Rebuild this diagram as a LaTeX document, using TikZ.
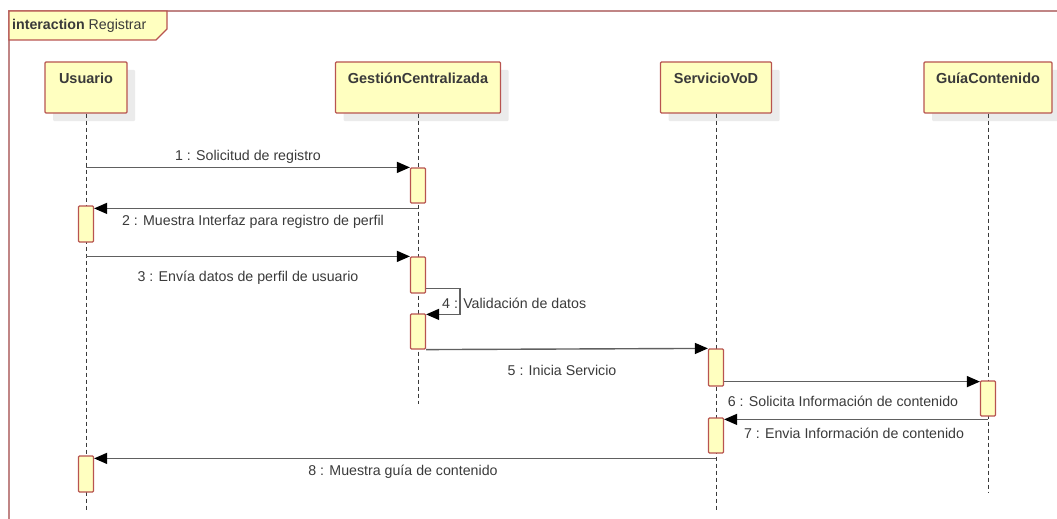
\documentclass[tikz,border=0pt]{standalone}
\usepackage{fontspec}
\setmainfont{Liberation Sans}
\usetikzlibrary{arrows.meta,shadows}
\definecolor{boxfill}{HTML}{FFFFC0}
\definecolor{boxline}{HTML}{B85450}
\definecolor{frameline}{HTML}{C08585}
\definecolor{msgline}{HTML}{606060}
\definecolor{txt}{HTML}{3A3A3A}
\definecolor{shade}{HTML}{EBEBEB}

\begin{document}
\begin{tikzpicture}[x=1pt,y=-1pt,
  head/.style={draw=boxline, fill=boxfill, line width=1.2pt, rounded corners=1pt,
    minimum height=51pt, inner sep=0pt,
    drop shadow={shadow xshift=8pt,shadow yshift=-8pt,fill=shade,opacity=1}},
  headtxt/.style={font=\bfseries\fontsize{14.5}{16}\selectfont, text=txt, inner sep=0pt},
  act/.style={draw=boxline, fill=boxfill, line width=1.2pt, rounded corners=1pt,
    minimum width=15pt, minimum height=36pt, inner sep=0pt},
  life/.style={draw=txt, line width=0.9pt, dash pattern=on 4pt off 3pt},
  msg/.style={draw=msgline, line width=1.4pt,
    -{Triangle[length=13pt,width=11pt,color=black]}},
  lbl/.style={font=\fontsize{14.2}{16}\selectfont, text=txt, inner sep=1pt}]

\useasboundingbox (0,0) rectangle (1057,519);

% frame of the interaction
\draw[frameline, line width=1.2pt] (9,519) -- (9,11) -- (1057,11);
\fill[boxfill] (9,11) -- (167,11) -- (167,29) -- (156,40) -- (9,40) -- cycle;
\draw[boxline, line width=1.2pt] (9,11) -- (167,11) -- (167,29) -- (156,40) -- (9,40) -- cycle;
\node[anchor=west, text=txt, inner sep=0pt, font=\fontsize{14.2}{16}\selectfont] (title) at (12,26)
  {\textbf{interaction} Registrar};

% lifeline heads
\node[head, minimum width=82pt]  (usuario) at (86,87.5)  {};
\node[head, minimum width=165pt] (gc)      at (418,87.5) {};
\node[head, minimum width=111pt] (sv)      at (716,87.5) {};
\node[head, minimum width=128pt] (guia)    at (988,87.5) {};
\node[headtxt] (tusuario) at ([yshift=-17pt]usuario.north) {Usuario};
\node[headtxt] (tgc)      at ([yshift=-17pt]gc.north)      {GestiónCentralizada};
\node[headtxt] (tsv)      at ([yshift=-17pt]sv.north)      {ServicioVoD};
\node[headtxt] (tguia)    at ([yshift=-17pt]guia.north)    {GuíaContenido};

% lifelines
\coordinate (eusuario) at (86,510);
\coordinate (egc)      at (418,404);
\coordinate (esv)      at (716,510);
\coordinate (eguia)    at (988,493);
\draw[life] (usuario.south) -- (eusuario);
\draw[life] (gc.south) -- (egc);
\draw[life] (sv.south) -- (esv);
\draw[life] (guia.south) -- (eguia);

% activations
\node[act, minimum height=35pt] (a1) at (418,185.5) {};
\node[act] (a2) at (86,224) {};
\node[act] (a3) at (418,275) {};
\node[act, minimum height=35pt] (a4) at (418,331.5) {};
\node[act, minimum height=37pt] (a5) at (716,367.5) {};
\node[act, minimum height=35pt] (a6) at (988,398.5) {};
\node[act, minimum height=35pt] (a7) at (716,435.5) {};
\node[act] (a8) at (86,474) {};

% messages
\draw[msg] (a1.north west -| usuario) -- (a1.north west);
\draw[msg] ([yshift=-3pt]a2.north east -| a1) -- ([yshift=-3pt]a2.north east);
\draw[msg] (a3.north west -| usuario) -- (a3.north west);
\draw[msg] ([yshift=5pt]a3.south east) -- ([xshift=34pt,yshift=5pt]a3.south east) |- ([yshift=-1pt]a4.north east);
\draw[msg] (a4.south east) -- (a5.north west);
\draw[msg] ([yshift=5pt]a5.south east) -- ([yshift=5pt]a5.south east -| a6.west);
\draw[msg] ([yshift=-2pt]a7.north -| a6) -- ([yshift=-2pt]a7.north east);
\draw[msg] ([yshift=-3pt]a8.north -| a7) -- ([yshift=-3pt]a8.north east);

% message labels
\node[lbl] (l1) at (248,157) {1 : Solicitud de registro};
\node[lbl] (l2) at (253,222) {2 : Muestra Interfaz para registro de perfil};
\node[lbl] (l3) at (248,278) {3 : Envía datos de perfil de usuario};
\node[lbl, anchor=west] (l4) at (441,303) {4 : Validación de datos};
\node[lbl] (l5) at (562,370) {5 : Inicia Servicio};
\node[lbl] (l6) at (843,401) {6 : Solicita Información de contenido};
\node[lbl] (l7) at (854,433) {7 : Envia Información de contenido};
\node[lbl] (l8) at (403,472) {8 : Muestra guía de contenido};
\end{tikzpicture}
\end{document}
